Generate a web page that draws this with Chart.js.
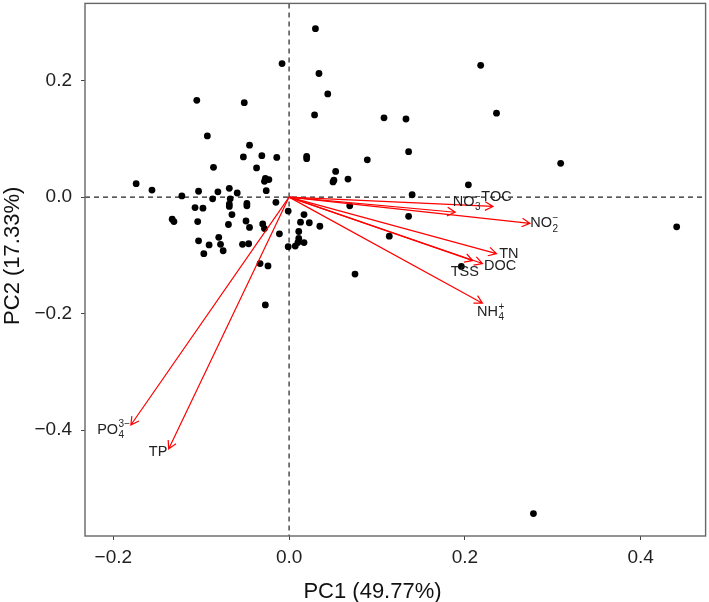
<!DOCTYPE html>
<html>
<head>
<meta charset="utf-8">
<script src="https://cdn.jsdelivr.net/npm/chart.js@4.4.1/dist/chart.umd.min.js"></script>
<style>
  html, body { margin: 0; padding: 0; background: #fff; }
  #wrap { width: 709px; height: 602px; }
</style>
</head>
<body>
<div id="wrap"><canvas id="pca" width="709" height="602" style="width:709px;height:602px"></canvas></div>
<script>
// sample scores (PC1, PC2)
const scoreX = [
  0.030, -0.008, 0.218, 0.034, 0.044, 0.236, 0.029, 0.108, 0.133, 0.136,
  0.020, 0.020, 0.089, 0.309, 0.053, 0.050, 0.051, 0.067, 0.204, 0.140,
  -0.105, -0.051, -0.093, -0.045, -0.052, -0.031, -0.014, -0.086, -0.037, -0.027,
  -0.023, -0.028, -0.026, -0.174, -0.156, -0.122, -0.103, -0.081, -0.068, -0.059,
  -0.087, -0.067, -0.068, -0.068, -0.048, -0.048, -0.015, -0.107, -0.098, -0.065,
  -0.001, -0.133, -0.131, -0.104, -0.069, -0.049, -0.045, -0.030, -0.028, -0.011,
  0.017, 0.013, 0.023, 0.035, 0.011, -0.103, -0.080, -0.091, -0.078, -0.075,
  -0.097, -0.053, -0.046, -0.001, 0.007, 0.010, 0.011, 0.017, -0.033, -0.024,
  0.069, 0.136, 0.441, 0.114, 0.075, 0.196, -0.027, 0.278
];
const scoreY = [
  0.289, 0.229, 0.226, 0.212, 0.177, 0.144, 0.141, 0.136, 0.134, 0.078,
  0.070, 0.066, 0.064, 0.058, 0.044, 0.026, 0.029, 0.031, 0.021, 0.004,
  0.166, 0.162, 0.105, 0.089, 0.069, 0.071, 0.068, 0.051, 0.050, 0.032,
  0.030, 0.027, 0.011, 0.023, 0.012, 0.002, 0.010, 0.009, 0.015, 0.007,
  -0.003, -0.003, -0.012, -0.016, -0.011, -0.015, -0.009, -0.018, -0.019, -0.030,
  -0.024, -0.038, -0.042, -0.042, -0.047, -0.041, -0.052, -0.046, -0.054, -0.063,
  -0.030, -0.043, -0.044, -0.050, -0.059, -0.075, -0.069, -0.082, -0.081, -0.092,
  -0.097, -0.081, -0.080, -0.085, -0.084, -0.078, -0.071, -0.078, -0.114, -0.118,
  -0.015, -0.033, -0.051, -0.067, -0.132, -0.119, -0.185, -0.543
];

// variable loadings (arrow tips) and their labels
const varBase = ['NO', 'TOC', 'NO', 'TN', 'TSS', 'DOC', 'NH', 'PO', 'TP'];
const varSub  = ['3', '', '2', '', '', '', '4', '4', ''];
const varSup  = ['\u2212', '', '\u2212', '', '', '', '+', '3\u2212', ''];
const loadX = [0.189, 0.232, 0.274, 0.236, 0.209, 0.220, 0.220, -0.180, -0.137];
const loadY = [-0.026, -0.016, -0.045, -0.097, -0.109, -0.114, -0.182, -0.391, -0.432];
const labelX = [0.202, 0.236, 0.290, 0.250, 0.200, 0.240, 0.229, -0.200, -0.149];
const labelY = [-0.008, 0.001, -0.045, -0.098, -0.129, -0.119, -0.197, -0.399, -0.438];

const xTicks = [-0.2, 0, 0.2, 0.4];
const yTicks = [-0.4, -0.2, 0, 0.2];
const xTitle = 'PC1 (49.77%)';
const yTitle = 'PC2 (17.33%)';

const FONT = "'Liberation Sans', Arial, Helvetica, sans-serif";
const fmt = v => Number(v).toFixed(1).replace('-', '\u2212');

const biplot = {
  id: 'biplot',
  beforeDatasetsDraw(chart) {
    const { ctx, chartArea: a, scales: { x, y } } = chart;
    const x0 = x.getPixelForValue(0), y0 = y.getPixelForValue(0);
    ctx.save();
    ctx.strokeStyle = '#222';
    ctx.lineWidth = 1.2;
    ctx.setLineDash([5, 4]);
    ctx.beginPath();
    ctx.moveTo(a.left, y0); ctx.lineTo(a.right, y0);
    ctx.moveTo(x0, a.top); ctx.lineTo(x0, a.bottom);
    ctx.stroke();
    ctx.restore();
  },
  afterDatasetsDraw(chart) {
    const { ctx, chartArea: a, scales: { x, y } } = chart;
    const ox = x.getPixelForValue(0), oy = y.getPixelForValue(0);
    ctx.save();
    // arrows
    ctx.strokeStyle = '#ff0000';
    ctx.lineWidth = 1.2;
    for (let i = 0; i < loadX.length; i++) {
      const tx = x.getPixelForValue(loadX[i]), ty = y.getPixelForValue(loadY[i]);
      const ang = Math.atan2(ty - oy, tx - ox);
      const hl = 9, ha = 0.5;
      ctx.beginPath();
      ctx.moveTo(ox, oy); ctx.lineTo(tx, ty);
      ctx.moveTo(tx - hl * Math.cos(ang - ha), ty - hl * Math.sin(ang - ha));
      ctx.lineTo(tx, ty);
      ctx.lineTo(tx - hl * Math.cos(ang + ha), ty - hl * Math.sin(ang + ha));
      ctx.stroke();
    }
    // labels
    ctx.fillStyle = '#222';
    ctx.textBaseline = 'middle';
    ctx.textAlign = 'left';
    for (let i = 0; i < varBase.length; i++) {
      const cx = x.getPixelForValue(labelX[i]), cy = y.getPixelForValue(labelY[i]);
      ctx.font = '14.5px ' + FONT;
      const wb = ctx.measureText(varBase[i]).width;
      ctx.font = '10px ' + FONT;
      const ws = Math.max(ctx.measureText(varSub[i]).width, ctx.measureText(varSup[i]).width);
      const sx = cx - (wb + ws) / 2;
      ctx.font = '14.5px ' + FONT;
      ctx.fillText(varBase[i], sx, cy);
      ctx.font = '10px ' + FONT;
      if (varSub[i]) ctx.fillText(varSub[i], sx + wb + 0.5, cy + 5.5);
      if (varSup[i]) ctx.fillText(varSup[i], sx + wb + 0.5, cy - 5);
    }
    // frame
    ctx.strokeStyle = '#666';
    ctx.lineWidth = 1.4;
    ctx.strokeRect(a.left, a.top, a.right - a.left, a.bottom - a.top);
    // axis titles
    ctx.fillStyle = '#111';
    ctx.font = '22px ' + FONT;
    ctx.textAlign = 'center';
    ctx.textBaseline = 'alphabetic';
    ctx.fillText(xTitle, 372.5, 598);
    ctx.translate(18.7, 255.8);
    ctx.rotate(-Math.PI / 2);
    ctx.fillText(yTitle, 0, 0);
    ctx.restore();
  }
};

new Chart(document.getElementById('pca'), {
  type: 'scatter',
  data: {
    datasets: [{
      data: scoreX.map((v, i) => ({ x: v, y: scoreY[i] })),
      backgroundColor: '#000',
      borderWidth: 0,
      pointRadius: 3.4,
      pointHoverRadius: 3.4
    }]
  },
  options: {
    responsive: false,
    animation: false,
    events: [],
    layout: { padding: { top: 2, right: 3, left: 0, bottom: 0 } },
    plugins: { legend: { display: false }, tooltip: { enabled: false } },
    scales: {
      x: {
        type: 'linear',
        min: -0.2322,
        max: 0.4739,
        afterBuildTicks: s => { s.ticks = xTicks.map(v => ({ value: v })); },
        afterFit: s => { s.height = 66; s.paddingLeft = 0; s.paddingRight = 0; },
        grid: { drawOnChartArea: false, drawTicks: true, tickLength: 4, color: '#444' },
        border: { display: false },
        ticks: {
          padding: 6,
          maxRotation: 0,
          autoSkip: false,
          color: '#222',
          font: { family: FONT, size: 19 },
          callback: v => fmt(v)
        }
      },
      y: {
        type: 'linear',
        min: -0.5814,
        max: 0.3323,
        afterBuildTicks: s => { s.ticks = yTicks.map(v => ({ value: v })); },
        afterFit: s => { s.width = 85; s.paddingTop = 0; s.paddingBottom = 0; },
        grid: { drawOnChartArea: false, drawTicks: true, tickLength: 4, color: '#444' },
        border: { display: false },
        ticks: {
          padding: 9,
          autoSkip: false,
          color: '#222',
          font: { family: FONT, size: 19 },
          callback: v => fmt(v)
        }
      }
    }
  },
  plugins: [biplot]
});
</script>
</body>
</html>
